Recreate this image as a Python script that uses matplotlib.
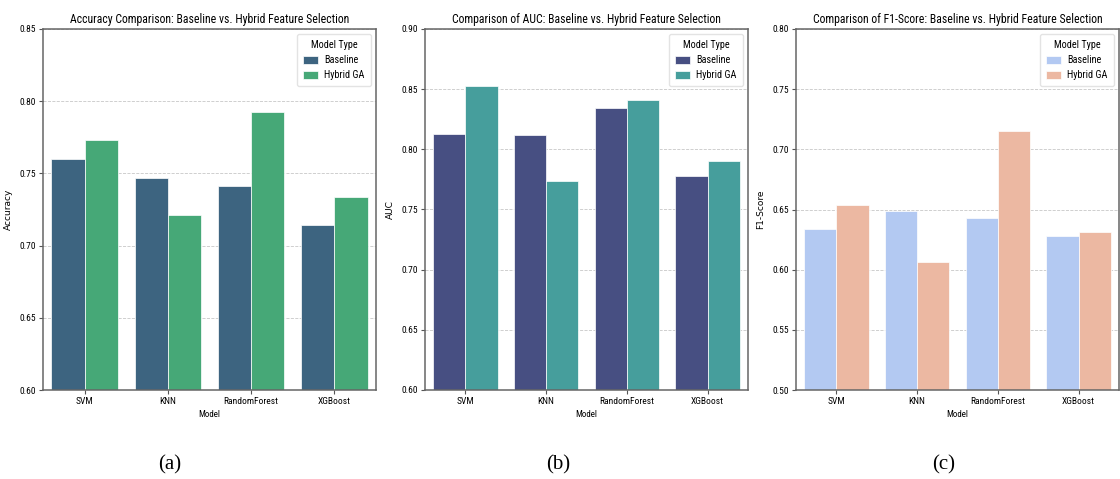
import matplotlib
matplotlib.use("Agg")
import matplotlib.pyplot as plt
import numpy as np
from matplotlib import font_manager

models = ["SVM", "KNN", "RandomForest", "XGBoost"]
groups = ["Baseline", "Hybrid GA"]

acc_baseline = [0.760, 0.747, 0.741, 0.7145]
acc_hybrid = [0.773, 0.721, 0.7925, 0.734]

auc_baseline = [0.813, 0.812, 0.834, 0.778]
auc_hybrid = [0.853, 0.774, 0.841, 0.790]

f1_baseline = [0.634, 0.649, 0.643, 0.628]
f1_hybrid = [0.654, 0.606, 0.715, 0.631]

# the reference text is squeezed sideways, so look for a condensed face
names = {f.name for f in font_manager.fontManager.ttflist}
candidates = ["Roboto Condensed", "Open Sans Condensed", "Fira Sans Condensed",
              "IBM Plex Sans Condensed", "PT Sans Narrow", "Archivo Narrow",
              "Liberation Sans Narrow", "Encode Sans Condensed", "Asap Condensed"]
narrow = next((c for c in candidates if c in names), "DejaVu Sans")

plt.rcParams['font.family'] = [narrow, 'DejaVu Sans']

fig = plt.figure(figsize=(11.2, 4.79), dpi=100)

panels = [
    ([43, 376], "Accuracy Comparison: Baseline vs. Hybrid Feature Selection", "Accuracy",
     (0.60, 0.85), ["#3d6480", "#46a877"], acc_baseline, acc_hybrid, "(a)", 170),
    ([425, 748], "Comparison of AUC: Baseline vs. Hybrid Feature Selection", "AUC",
     (0.60, 0.90), ["#474f82", "#469e9c"], auc_baseline, auc_hybrid, "(b)", 558),
    ([796, 1119], "Comparison of F1-Score: Baseline vs. Hybrid Feature Selection", "F1-Score",
     (0.50, 0.80), ["#b3c9f2", "#ecb8a2"], f1_baseline, f1_hybrid, "(c)", 944),
]

W, H = 1120, 479
top, bottom = 29, 390
x = np.arange(len(models))
w = 0.4

for (lr, title, ylabel, ylim, colors, base, hyb, cap, capx) in panels:
    ax = fig.add_axes([lr[0] / W, (H - bottom) / H, (lr[1] - lr[0]) / W, (bottom - top) / H])
    ax.bar(x - w / 2, base, width=w, color=colors[0], edgecolor="white", linewidth=0.5,
           label=groups[0], zorder=2)
    ax.bar(x + w / 2, hyb, width=w, color=colors[1], edgecolor="white", linewidth=0.5,
           label=groups[1], zorder=2)
    ax.set_xlim(-0.5, 3.5)
    ax.set_ylim(*ylim)
    ax.set_yticks(np.arange(ylim[0], ylim[1] + 0.001, 0.05))
    ax.yaxis.set_major_formatter(matplotlib.ticker.FormatStrFormatter('%.2f'))
    ax.set_xticks(x)
    ax.set_xticklabels(models)
    ax.tick_params(labelsize=6.8, length=3, width=0.8, color="#555555", pad=2)
    ax.grid(axis='y', linestyle='--', color='#c8c8c8', linewidth=0.6, zorder=0)
    for s in ax.spines.values():
        s.set_color("#666666")
        s.set_linewidth(1.1)
    ax.set_title(title, fontsize=8.5, pad=4)
    ax.set_ylabel(ylabel, fontsize=6.5, family='DejaVu Sans', labelpad=5)
    ax.set_xlabel("Model", fontsize=6.5, labelpad=3)
    leg = ax.legend(title="Model Type", loc="upper right", fontsize=7.3, title_fontsize=7.3,
                    frameon=True, handlelength=1.5, handleheight=0.9, borderpad=0.6,
                    labelspacing=0.5, handletextpad=0.6)
    leg.get_frame().set_edgecolor("#dddddd")
    fig.text(capx / W, (H - 465) / H, cap, ha='center', va='center', fontsize=15,
             family=['Liberation Serif', 'DejaVu Serif'])

fig.savefig("out.png", dpi=100)
